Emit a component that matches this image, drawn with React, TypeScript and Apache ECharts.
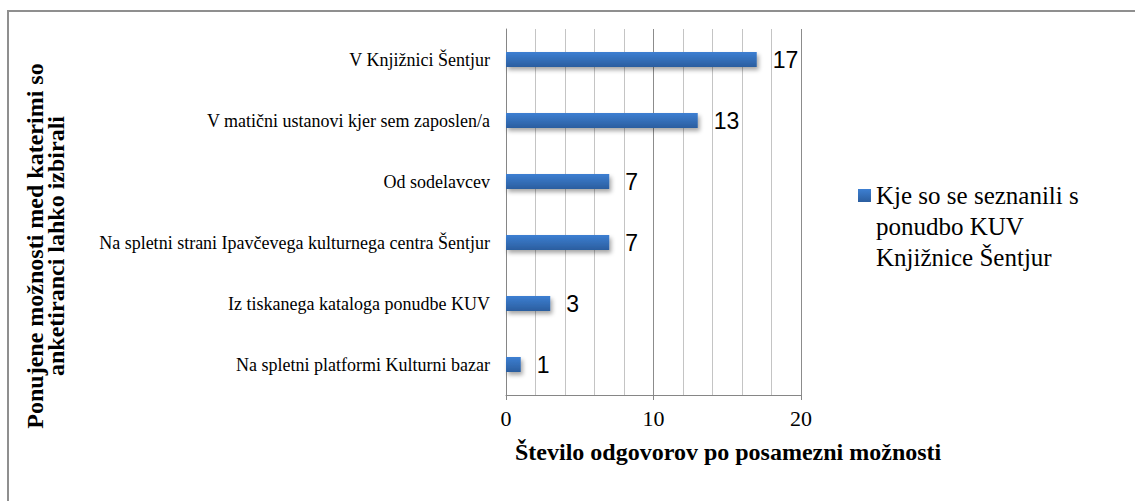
import React, { useEffect, useRef } from "react";
import * as echarts from "echarts";

const categories: string[] = [
  "V Knjižnici Šentjur",
  "V matični ustanovi kjer sem zaposlen/a",
  "Od sodelavcev",
  "Na spletni strani Ipavčevega kulturnega centra Šentjur",
  "Iz tiskanega kataloga ponudbe KUV",
  "Na spletni platformi Kulturni bazar",
];
const values: number[] = [17, 13, 7, 7, 3, 1];
const seriesName = "Kje so se seznanili s\nponudbo KUV\nKnjižnice Šentjur";
const xAxisTitle = "Število odgovorov po posamezni možnosti";
const yAxisTitle = "Ponujene možnosti med katerimi so\nanketiranci lahko izbirali";
const xMin = 0;
const xMax = 20;
const xInterval = 10;

const SERIF = "Liberation Serif";
const SANS = "Liberation Sans";

export default function App() {
  const ref = useRef<HTMLDivElement>(null);
  useEffect(() => {
    document.body.style.margin = "0";
    if (!ref.current) return;
    const chart = echarts.init(ref.current, undefined, { renderer: "svg" });
    const barColor = new echarts.graphic.LinearGradient(0, 0, 0, 1, [
      { offset: 0, color: "#3d7fd2" },
      { offset: 1, color: "#2b5e9f" },
    ]);
    chart.setOption({
      animation: false,
      backgroundColor: "#ffffff",
      grid: { left: 506, right: 334, top: 29, bottom: 106, containLabel: false },
      legend: {
        show: true,
        left: 858,
        top: 118,
        padding: 0,
        itemWidth: 13,
        itemHeight: 13,
        itemGap: 5,
        orient: "vertical",
        formatter: (name: string) => "\n\n" + name,
        textStyle: {
          fontFamily: SERIF,
          fontSize: 25,
          lineHeight: 31,
          color: "#000",
        },
        data: [{ name: seriesName, icon: "rect" }],
      },
      xAxis: {
        type: "value",
        min: xMin,
        max: xMax,
        interval: xInterval,
        axisLine: { show: true, lineStyle: { color: "#868686", width: 1 } },
        axisTick: { show: true, length: 5, lineStyle: { color: "#868686" } },
        axisLabel: { fontFamily: SERIF, fontSize: 22, color: "#000", margin: 12 },
        splitLine: { show: true, lineStyle: { color: "#8c8c8c", width: 1 } },
        minorTick: { show: false, splitNumber: 5 },
        minorSplitLine: { show: true, lineStyle: { color: "#c4c4c4", width: 1 } },
      },
      yAxis: {
        type: "category",
        inverse: true,
        data: categories,
        axisLine: { show: true, lineStyle: { color: "#868686", width: 1 } },
        axisTick: { show: false },
        axisLabel: { fontFamily: SERIF, fontSize: 18, color: "#000", margin: 16 },
        splitLine: { show: false },
      },
      series: [
        {
          name: seriesName,
          type: "bar",
          data: values,
          barWidth: 15,
          itemStyle: {
            color: barColor,
            shadowColor: "rgba(0,0,0,0.35)",
            shadowBlur: 4,
            shadowOffsetX: 2,
            shadowOffsetY: 3,
          },
          label: {
            show: true,
            position: "right",
            distance: 16,
            fontFamily: SANS,
            fontSize: 23,
            color: "#000",
          },
        },
      ],
      graphic: [
        {
          type: "rect",
          shape: { x: 8, y: 11, width: 1140, height: 500 },
          style: { fill: "none", stroke: "#8f8f8f", lineWidth: 2 },
          silent: true,
        },
        {
          type: "text",
          left: 515,
          top: 440,
          style: {
            text: xAxisTitle,
            font: `bold 24px ${SERIF}`,
            fill: "#000",
          },
        },
        {
          type: "text",
          x: 45,
          y: 246,
          rotation: Math.PI / 2,
          style: {
            text: yAxisTitle,
            font: `bold 24px ${SERIF}`,
            fill: "#000",
            align: "center",
            verticalAlign: "middle",
            lineHeight: 21,
          },
        },
      ],
    });
    return () => chart.dispose();
  }, []);
  return <div ref={ref} style={{ width: 1135, height: 501 }} />;
}
